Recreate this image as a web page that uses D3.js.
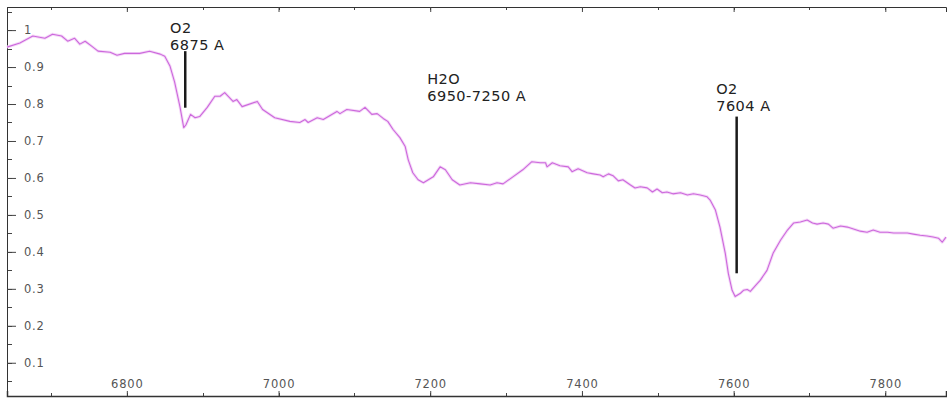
<html>
<head>
<title>Spectrum</title>
<script src="https://cdn.jsdelivr.net/npm/d3@7"></script>
<style>
  body { margin: 0; background: #fff; }
  #chart { width: 947px; height: 398px; }
  .tick text { font-family: "DejaVu Sans", sans-serif; font-size: 11.5px; fill: #555; letter-spacing: 0.8px; }
  .note { font-family: "DejaVu Sans", sans-serif; font-size: 14.5px; fill: #222; letter-spacing: 0.5px; }
</style>
</head>
<body>
<div id="chart"></div>
<script>
// wavelength (A) and relative intensity
var wavelength = [6642,6659,6676,6692,6702,6714,6722,6731,6738,6745,6754,6762,6778,6787,6797,6817,6830,6844,6850,6857,
  6863,6870,6875,6878,6884,6890,6896,6906,6916,6923,6929,6940,6945,6952,6972,6979,6995,7015,7028,7035,
  7039,7051,7059,7077,7081,7090,7107,7114,7123,7130,7138,7144,7151,7160,7167,7171,7177,7184,7191,7204,
  7213,7220,7229,7239,7253,7266,7279,7288,7296,7309,7322,7334,7345,7352,7354,7361,7371,7382,7387,7395,
  7407,7415,7424,7428,7435,7441,7448,7454,7464,7470,7477,7486,7493,7499,7506,7512,7520,7530,7539,7547,
  7556,7565,7569,7576,7582,7589,7593,7598,7602,7609,7613,7618,7622,7629,7635,7644,7652,7662,7671,7679,
  7688,7697,7704,7710,7718,7725,7731,7741,7750,7758,7767,7776,7784,7793,7803,7811,7820,7829,7837,7846,
  7855,7863,7870,7875,7880]
var intensity = [0.954,0.965,0.984,0.978,0.989,0.984,0.970,0.978,0.962,0.970,0.956,0.943,0.940,0.932,0.937,0.937,0.943,0.935,0.929,0.902,
  0.859,0.793,0.736,0.744,0.772,0.763,0.766,0.791,0.821,0.821,0.831,0.807,0.812,0.793,0.807,0.785,0.763,0.753,0.750,0.758,
  0.750,0.763,0.758,0.780,0.774,0.785,0.780,0.791,0.772,0.774,0.761,0.753,0.731,0.709,0.685,0.649,0.614,0.595,0.587,0.603,
  0.630,0.622,0.595,0.581,0.587,0.584,0.581,0.587,0.584,0.603,0.622,0.644,0.641,0.641,0.630,0.641,0.633,0.630,0.617,0.625,
  0.614,0.611,0.608,0.603,0.611,0.606,0.592,0.595,0.581,0.573,0.576,0.573,0.562,0.570,0.560,0.562,0.557,0.560,0.554,0.557,
  0.554,0.549,0.540,0.513,0.467,0.396,0.342,0.296,0.279,0.288,0.296,0.298,0.293,0.309,0.323,0.350,0.396,0.432,0.459,0.478,
  0.481,0.486,0.478,0.475,0.478,0.475,0.464,0.470,0.467,0.462,0.456,0.453,0.459,0.453,0.453,0.451,0.451,0.451,0.448,0.445,
  0.443,0.440,0.437,0.426,0.440]

var yTicks = [0.1,0.2,0.3,0.4,0.5,0.6,0.7,0.8,0.9,1]
var xTicks = [6800,7000,7200,7400,7600,7800]

// absorption bands: label lines, line position and its top/bottom value
var notes = [
  { lines: ["O2", "6875 A"], at: 6877, top: 0.943, bottom: 0.790, textAt: 6857, textY: 0.991 },
  { lines: ["H2O", "6950-7250 A"], at: null, textAt: 7196, textY: 0.855 },
  { lines: ["O2", "7604 A"], at: 7604, top: 0.766, bottom: 0.342, textAt: 7577, textY: 0.828 }
]

var W = 947, H = 398
var m = { top: 7, right: 1, bottom: 2, left: 7 }

var svg = d3.select('#chart').append('svg')
  .attr('width', W).attr('height', H)

var x = d3.scaleLinear().domain([6642, 7880]).range([m.left, W - m.right])
var y = d3.scaleLinear().domain([0.01, 1.0625]).range([H - m.bottom, m.top])

var data = wavelength.map(function(w, i){ return { w: w, v: intensity[i] } })

// minor ticks (halfway)
var xMinor = d3.range(6700, 7880, 100)
var yMinor = d3.range(0.05, 1.06, 0.05)

// left axis, ticks inside
var ya = svg.append('g').attr('transform', 'translate(' + m.left + ',0)')
ya.selectAll('line.minor').data(yMinor).enter().append('line')
  .attr('x1', 0).attr('x2', 5).attr('y1', function(d){ return Math.round(y(d)) + 0.5 }).attr('y2', function(d){ return Math.round(y(d)) + 0.5 })
  .attr('stroke', '#444')
ya.call(d3.axisRight(y).tickValues(yTicks).tickSize(9).tickPadding(8).tickFormat(d3.format('')))
ya.select('.domain').attr('stroke', '#333')
ya.selectAll('.tick line').attr('stroke', '#444')

// bottom axis, labels above
var xa = svg.append('g').attr('transform', 'translate(0,' + (H - m.bottom) + ')')
xa.selectAll('line.minor').data(xMinor).enter().append('line')
  .attr('x1', function(d){ return Math.round(x(d)) + 0.5 }).attr('x2', function(d){ return Math.round(x(d)) + 0.5 })
  .attr('y1', 0).attr('y2', -3).attr('stroke', '#444')
xa.call(d3.axisTop(x).tickValues(xTicks).tickSize(5).tickPadding(3).tickFormat(d3.format('d')))
xa.select('.domain').attr('stroke', '#333').attr('stroke-width', 1.5)
xa.selectAll('.tick line').attr('stroke', '#444')

// top border with ticks pointing down
var ta = svg.append('g').attr('transform', 'translate(0,' + m.top + ')')
ta.selectAll('line.minor').data(xMinor).enter().append('line')
  .attr('x1', function(d){ return Math.round(x(d)) + 0.5 }).attr('x2', function(d){ return Math.round(x(d)) + 0.5 })
  .attr('y1', 0).attr('y2', 3).attr('stroke', '#444')
ta.call(d3.axisBottom(x).tickValues(xTicks).tickSize(5).tickFormat(''))
ta.select('.domain').attr('stroke', '#333')
ta.selectAll('.tick line').attr('stroke', '#444')

// spectrum line
var line = d3.line().x(function(d){ return x(d.w) }).y(function(d){ return y(d.v) })
svg.append('path').datum(data)
  .attr('d', line)
  .attr('fill', 'none')
  .attr('stroke', '#f5daf8')
  .attr('stroke-width', 3)
  .attr('stroke-linejoin', 'round')
svg.append('path').datum(data)
  .attr('d', line)
  .attr('fill', 'none')
  .attr('stroke', '#cc68dc')
  .attr('stroke-width', 1.1)
  .attr('stroke-linejoin', 'round')

// annotations
notes.forEach(function(n){
  if (n.at !== null) {
    svg.append('line')
      .attr('x1', x(n.at)).attr('x2', x(n.at))
      .attr('y1', y(n.top)).attr('y2', y(n.bottom))
      .attr('stroke', '#1a1a1a').attr('stroke-width', 2.5)
  }
  var t = svg.append('text').attr('class', 'note')
    .attr('x', x(n.textAt)).attr('y', y(n.textY))
  n.lines.forEach(function(s, i){
    t.append('tspan').attr('x', x(n.textAt)).attr('dy', i ? 17 : 0).text(s)
  })
})
</script>
</body>
</html>
